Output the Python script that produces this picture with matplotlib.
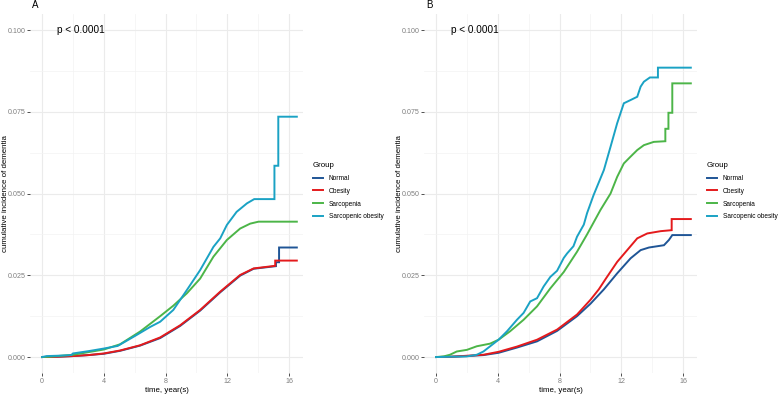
import matplotlib
matplotlib.use("Agg")
import matplotlib.pyplot as plt
from matplotlib.ticker import MultipleLocator

plt.rcParams['font.family'] = ['Liberation Sans', 'DejaVu Sans']

groups = ["Normal", "Obesity", "Sarcopenia", "Sarcopenic obesity"]
colors = ["#1f5596", "#e41a1c", "#4cb548", "#1aa2c4"]

# panel A: cumulative incidence (time in years)
a_normal_t = [0, 1.0, 2.0, 3.0, 4.0, 5.05, 6.35, 7.65, 8.94, 10.24, 11.54, 12.83, 13.7, 15.15, 15.15, 15.35, 15.35, 16.5]
a_normal_y = [0, 0.0001, 0.0003, 0.0006, 0.0010, 0.0019, 0.0035, 0.0058, 0.0095, 0.0142, 0.0198, 0.0249, 0.0270, 0.0278, 0.0290, 0.0290, 0.0335, 0.0335]
a_obese_t = [0, 1.0, 2.0, 3.0, 4.0, 5.05, 6.35, 7.65, 8.94, 10.24, 11.54, 12.83, 13.7, 15.1, 15.1, 16.5]
a_obese_y = [0, 0.0001, 0.0003, 0.0006, 0.0011, 0.0020, 0.0036, 0.0060, 0.0097, 0.0144, 0.0200, 0.0251, 0.0271, 0.0279, 0.0295, 0.0295]
a_sarc_t = [0, 0.5, 1.0, 2.0, 3.0, 4.0, 5.05, 6.35, 7.65, 8.5, 9.38, 10.24, 11.1, 11.97, 12.83, 13.48, 14.02, 16.5]
a_sarc_y = [0, 0.0001, 0.0003, 0.0007, 0.0015, 0.0023, 0.0039, 0.0078, 0.0125, 0.0157, 0.0195, 0.0240, 0.0307, 0.0358, 0.0393, 0.0408, 0.0414, 0.0414]
a_sobese_t = [0, 0.3, 1.0, 1.9, 2.0, 3.0, 4.0, 4.9, 6.0, 7.0, 7.65, 8.5, 9.38, 10.24, 11.1, 11.54, 11.97, 12.6, 13.27, 13.74, 15.05, 15.05, 15.3, 15.3, 16.5]
a_sobese_y = [0, 0.0003, 0.0004, 0.0006, 0.0011, 0.0018, 0.0026, 0.0034, 0.0064, 0.0092, 0.0108, 0.0144, 0.0205, 0.0266, 0.0337, 0.0363, 0.0404, 0.0444, 0.0470, 0.0483, 0.0483, 0.0585, 0.0585, 0.0735, 0.0735]

# panel B
b_normal_t = [0, 1.0, 2.0, 3.07, 4.05, 5.24, 6.54, 7.84, 9.13, 10.0, 10.87, 11.73, 12.6, 13.25, 13.79, 14.76, 15.08, 15.3, 16.5]
b_normal_y = [0, 0.0001, 0.0003, 0.0006, 0.0013, 0.0029, 0.0048, 0.0080, 0.0125, 0.0163, 0.0207, 0.0256, 0.0302, 0.0327, 0.0335, 0.0342, 0.0358, 0.0373, 0.0373]
b_obese_t = [0, 1.0, 2.0, 3.07, 4.05, 5.24, 6.54, 7.84, 9.13, 10.0, 10.54, 11.0, 11.73, 12.38, 13.03, 13.68, 14.55, 15.26, 15.26, 16.5]
b_obese_y = [0, 0.0001, 0.0004, 0.0007, 0.0016, 0.0032, 0.0053, 0.0084, 0.0130, 0.0175, 0.0207, 0.0240, 0.0291, 0.0327, 0.0363, 0.0378, 0.0385, 0.0388, 0.0422, 0.0422]
b_sarc_t = [0, 0.5, 0.9, 1.34, 2.0, 2.64, 3.5, 4.05, 4.8, 5.67, 6.54, 7.4, 8.27, 9.13, 9.78, 10.65, 11.3, 11.73, 12.16, 12.6, 13.03, 13.46, 14.1, 14.85, 14.85, 15.05, 15.05, 15.3, 15.3, 16.5]
b_sarc_y = [0, 0.0002, 0.0007, 0.0017, 0.0022, 0.0033, 0.0041, 0.0053, 0.0079, 0.0114, 0.0155, 0.0210, 0.0260, 0.0322, 0.0375, 0.0450, 0.0500, 0.0551, 0.0592, 0.0613, 0.0633, 0.0648, 0.0658, 0.0660, 0.0698, 0.0698, 0.0747, 0.0747, 0.0837, 0.0837]
b_sobese_t = [0, 1.0, 2.0, 2.64, 3.07, 4.05, 4.6, 5.24, 5.67, 6.1, 6.54, 6.97, 7.4, 7.84, 8.27, 8.49, 8.9, 9.13, 9.57, 9.78, 10.2, 10.87, 11.3, 11.73, 12.16, 12.6, 13.03, 13.25, 13.46, 13.85, 14.37, 14.37, 16.5]
b_sobese_y = [0, 0.0001, 0.0002, 0.0007, 0.0017, 0.0053, 0.0079, 0.0114, 0.0135, 0.0170, 0.0180, 0.0216, 0.0245, 0.0264, 0.0303, 0.0317, 0.0339, 0.0368, 0.0405, 0.0440, 0.0495, 0.0572, 0.0643, 0.0715, 0.0776, 0.0786, 0.0796, 0.0827, 0.0842, 0.0855, 0.0855, 0.0885, 0.0885]

panels = [
    ("A", [(a_normal_t, a_normal_y), (a_obese_t, a_obese_y), (a_sarc_t, a_sarc_y), (a_sobese_t, a_sobese_y)]),
    ("B", [(b_normal_t, b_normal_y), (b_obese_t, b_obese_y), (b_sarc_t, b_sarc_y), (b_sobese_t, b_sobese_y)]),
]
yticks = [0, 0.025, 0.05, 0.075, 0.1]
ytick_labels = ["0.000", "0.025", "0.050", "0.075", "0.100"]
xticks = [0, 4, 8, 12, 16]

W, H = 778, 394
fig = plt.figure(figsize=(W / 100, H / 100), dpi=100)

lefts = [30, 424]
for (tag, curves), left in zip(panels, lefts):
    ax = fig.add_axes([left / W, 1 - 373.4 / H, 273 / W, 359.7 / H])
    for (t, y), c, g in zip(curves, colors, groups):
        ax.plot(t, y, color=c, lw=1.4, label=g, solid_joinstyle='miter')
    ax.set_xlim(-0.78, 16.9)
    ax.set_ylim(-0.005, 0.105)
    ax.set_xticks(xticks)
    ax.set_yticks(yticks)
    ax.set_yticklabels(ytick_labels)
    ax.xaxis.set_minor_locator(MultipleLocator(2))
    ax.yaxis.set_minor_locator(MultipleLocator(0.0125))
    ax.grid(which='major', color='#ebebeb', lw=0.8)
    ax.grid(which='minor', color='#f3f3f3', lw=0.5)
    ax.set_axisbelow(True)
    for s in ax.spines.values():
        s.set_visible(False)
    ax.tick_params(which='major', length=2, width=0.6, color='#333333',
                   labelsize=5.1, labelcolor='#7f7f7f', pad=1.2)
    ax.tick_params(which='minor', length=0)
    ax.set_xlabel("time, year(s)", fontsize=5.7, labelpad=1.5)
    ax.set_ylabel("cumulative incidence of dementia", fontsize=5.7, va='center')
    ax.yaxis.set_label_coords(-24.5 / 273, 0.5)
    ax.text(1.0, 0.1, "p < 0.0001", fontsize=7.2, va='center', ha='left')
    fig.text((left + 2) / W, 1 - 5 / H, tag, fontsize=7, va='center', ha='left')
    leg = fig.legend(handles=ax.get_lines(), labels=groups, title="Group",
                     loc='upper left', bbox_to_anchor=((left + 283) / W, 1 - 162 / H),
                     frameon=False, fontsize=4.7, title_fontsize=5.7,
                     handlelength=1.5, handletextpad=0.9, labelspacing=0.9,
                     borderpad=0, borderaxespad=0, alignment='left')

fig.savefig("out.png", dpi=100)
